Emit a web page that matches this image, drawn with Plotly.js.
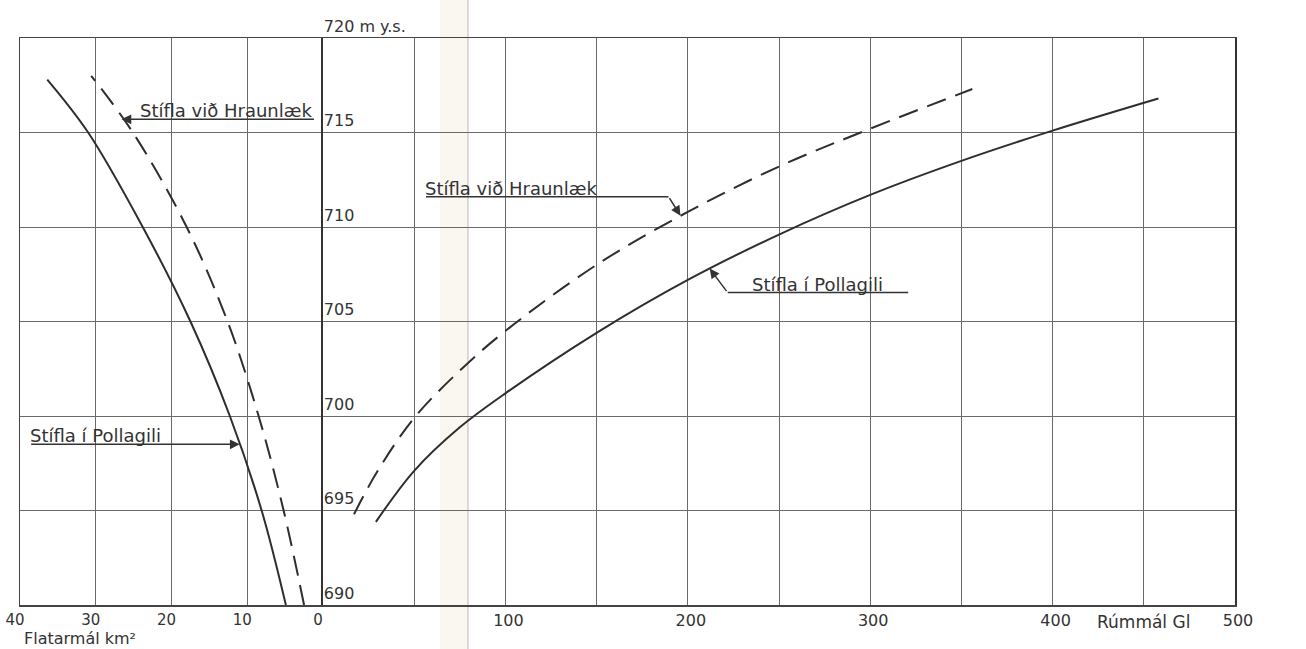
<!DOCTYPE html>
<html>
<head>
<meta charset="utf-8">
<script src="https://cdn.plot.ly/plotly-3.0.1.min.js"></script>
<style>html,body{margin:0;padding:0;background:#fff;}#chart{width:1306px;height:649px;}</style>
</head>
<body>
<div id="chart"></div>
<script>
// ---- Data ----
// Left panel: surface area (km²) vs. water level (m a.s.l.)
const elevAreaPollagili = [690, 695, 700, 705, 710, 715, 717.8];
const areaPollagili     = [4.9, 8.1, 12.3, 17.5, 23.8, 31.0, 36.4];
const elevAreaHraunlaek = [690, 695, 700, 705, 710, 715, 718];
const areaHraunlaek     = [2.5, 5.2, 8.5, 12.6, 18.0, 25.1, 30.6];
// Right panel: volume (Gl) vs. water level
const volPollagili      = [29, 50, 75, 100, 150, 200, 250, 300, 350, 400, 458];
const elevVolPollagili  = [694.4, 697.1, 699.4, 701.2, 704.4, 707.2, 709.6, 711.7, 713.5, 715.1, 716.8];
const volHraunlaek      = [17, 30, 50, 75, 100, 150, 200, 250, 300, 356];
const elevVolHraunlaek  = [694.8, 697.1, 699.9, 702.4, 704.5, 708.0, 710.8, 713.2, 715.2, 717.3];
// Ticks
const elevTicks   = [690, 695, 700, 705, 710, 715, 720];
const elevLabels  = ['690', '695', '700', '705', '710', '715', '720 m y.s.'];
const areaTicks   = [40, 30, 20, 10, 0];
const areaLabels  = ['40', '30', '20', '10', '0'];
const volTicks    = [0, 50, 100, 150, 200, 250, 300, 350, 400, 450, 500];
const volLabels   = ['', '', '100', '', '200', '', '300', '', '400', '', '500'];
// Series names
const nameHraun = 'Stífla við Hraunlæk';
const namePolla = 'Stífla í Pollagili';

const INK = '#333';
const FONT = 'DejaVu Sans, sans-serif';
const lineStyle = {color: '#2e2e2e', width: 2, shape: 'spline', smoothing: 1};

const traces = [
  {x: areaPollagili, y: elevAreaPollagili, xaxis: 'x', yaxis: 'y', mode: 'lines', name: namePolla,
   line: Object.assign({}, lineStyle)},
  {x: areaHraunlaek, y: elevAreaHraunlaek, xaxis: 'x', yaxis: 'y', mode: 'lines', name: nameHraun,
   line: Object.assign({dash: '20px,10px'}, lineStyle)},
  {x: volPollagili, y: elevVolPollagili, xaxis: 'x2', yaxis: 'y2', mode: 'lines', name: namePolla,
   line: Object.assign({}, lineStyle)},
  {x: volHraunlaek, y: elevVolHraunlaek, xaxis: 'x2', yaxis: 'y2', mode: 'lines', name: nameHraun,
   line: Object.assign({dash: '20px,10px'}, lineStyle)}
];

const split = 303 / 1215;
const gridC = '#6a6a6a';
const tickFont = {family: FONT, size: 16, color: INK};
const tickFontL = {family: FONT, size: 15, color: INK};
const labFont = {family: FONT, size: 18, color: INK};
const titleFont = {family: FONT, size: 16, color: INK};

function arrow(xr, yr, x, y, ax, ay, head, xs, ys) {
  return {xref: xr, yref: yr, x: x, y: y, text: '', showarrow: true, arrowhead: head, arrowsize: 1.3,
          arrowwidth: 1.5, arrowcolor: INK, ax: ax, ay: ay, standoff: 0, xshift: xs || 0, yshift: ys || 0};
}
function label(xr, yr, x, y, txt, xs, ys) {
  return {xref: xr, yref: yr, x: x, y: y, text: txt, showarrow: false, xanchor: 'left', yanchor: 'bottom',
          xshift: xs, yshift: ys, font: labFont};
}

const annotations = [
  // left: Stífla við Hraunlæk
  arrow('x', 'y', 26.6, 715.7, 194, 0, 2),
  label('x', 'y', 26.6, 715.7, nameHraun, 16, -4),
  // left: Stífla í Pollagili
  arrow('x', 'y', 11.0, 698.5, -210, 0, 2),
  label('x', 'y', 11.0, 698.5, namePolla, -212, -4),
  // right: Stífla við Hraunlæk
  arrow('x2', 'y2', 196, 710.6, -12, -19, 2),
  arrow('x2', 'y2', 196, 710.6, -244, 0, 0, -12, 19),
  label('x2', 'y2', 196, 710.6, nameHraun, -258, 15),
  // right: Stífla í Pollagili
  arrow('x2', 'y2', 212, 707.8, 18, 24, 2),
  arrow('x2', 'y2', 212, 707.8, 182, 0, 0, 18, -24),
  label('x2', 'y2', 212, 707.8, namePolla, 40, -28),
  // axis titles
  {xref: 'paper', yref: 'paper', x: 0.0016, y: -0.0585, xanchor: 'left', yanchor: 'middle', showarrow: false,
   text: 'Flatarmál km²', font: titleFont},
  {xref: 'paper', yref: 'paper', x: 0.885, y: -0.03, xanchor: 'left', yanchor: 'middle', showarrow: false,
   text: 'Rúmmál Gl', font: {family: FONT, size: 17, color: INK}}
];

const layout = {
  width: 1306, height: 649,
  margin: {l: 20, r: 71, t: 38, b: 44},
  paper_bgcolor: '#ffffff', plot_bgcolor: 'rgba(0,0,0,0)',
  showlegend: false,
  font: {family: FONT, color: INK},
  xaxis: {domain: [0, split], range: [40, 0], anchor: 'y', tickmode: 'array', tickvals: areaTicks, ticktext: areaLabels,
          showgrid: true, gridcolor: gridC, gridwidth: 1, zeroline: false, showline: true, mirror: true,
          linecolor: '#444', linewidth: 1.5, ticks: '', tickfont: tickFontL, ticklabelshift: 5},
  xaxis2: {domain: [split, 1], range: [0, 500], anchor: 'y2', tickmode: 'array', tickvals: volTicks, ticktext: volLabels,
           showgrid: true, gridcolor: gridC, gridwidth: 1, zeroline: false, showline: true, mirror: true,
           linecolor: '#444', linewidth: 1.5, ticks: '', tickfont: tickFont, ticklabelshift: 3},
  yaxis: {range: [690, 720], anchor: 'x', tickmode: 'array', tickvals: elevTicks, showticklabels: false,
          showgrid: true, gridcolor: gridC, gridwidth: 1, zeroline: false, showline: true, mirror: false,
          linecolor: '#444', linewidth: 1.5, ticks: ''},
  yaxis2: {range: [690, 720], anchor: 'x2', matches: 'y', side: 'left', tickmode: 'array', tickvals: elevTicks,
           ticktext: elevLabels, ticklabelposition: 'inside', ticklabeloverflow: 'allow', ticklabelshift: -12,
           ticklabelstandoff: 1, showgrid: true, gridcolor: gridC, gridwidth: 1, zeroline: false,
           showline: true, mirror: true, linecolor: '#333', linewidth: 2, ticks: '', tickfont: tickFont},
  shapes: [
    {type: 'rect', xref: 'paper', yref: 'paper', x0: 0.3457, x1: 0.3687, y0: -0.08, y1: 1.07, layer: 'below',
     fillcolor: 'rgba(238,226,206,0.3)', line: {width: 0}},
    {type: 'line', xref: 'paper', yref: 'paper', x0: 0.3687, x1: 0.3687, y0: -0.08, y1: 1.07, layer: 'below',
     line: {color: 'rgba(150,140,128,0.6)', width: 1}}
  ],
  annotations: annotations
};

Plotly.newPlot('chart', traces, layout, {staticPlot: true, displayModeBar: false});
</script>
</body>
</html>
